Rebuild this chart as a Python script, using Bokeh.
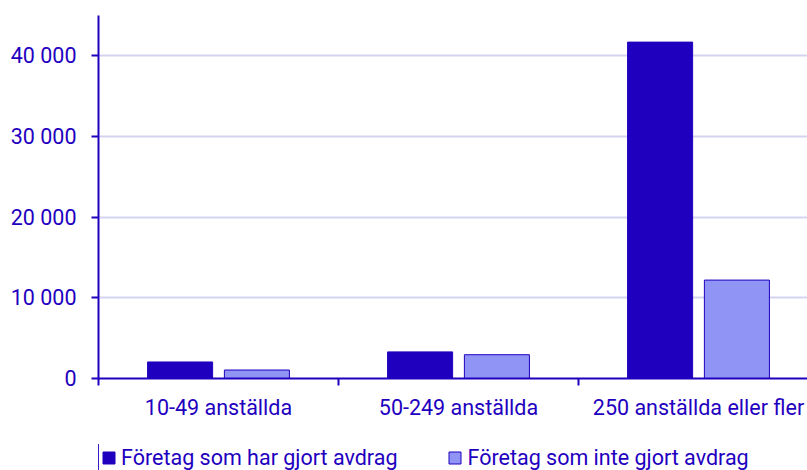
from bokeh.plotting import figure
from bokeh.layouts import column
from bokeh.models import (ColumnDataSource, FixedTicker, Range1d, Legend, LegendItem)
from bokeh.embed import file_html
from bokeh.resources import INLINE

categories = ["10-49 anställda", "50-249 anställda", "250 anställda eller fler"]
series_names = ["Företag som har gjort avdrag", "Företag som inte gjort avdrag"]
har_gjort = [2050, 3300, 41700]
inte_gjort = [1050, 2950, 12200]
y_ticks = [0, 10000, 20000, 30000, 40000]
y_tick_labels = ["0", "10 000", "20 000", "30 000", "40 000"]

DARK = "#1f00bf"
LIGHT = "#8f94f5"
GRID = "#d4d4f0"
FONT = "Roboto"
FS = "21.5px"

centers = [i + 0.5 for i in range(len(categories))]
bounds = [float(i) for i in range(len(categories))]

p = figure(width=807, height=444, output_backend="svg", toolbar_location=None,
           x_range=Range1d(0, 709 / 240), y_range=Range1d(0, 45000),
           min_border_left=98, min_border_top=15, min_border_right=0,
           min_border_bottom=66)
p.outline_line_color = None
p.background_fill_color = "white"

src1 = ColumnDataSource(dict(x=[c - 0.16 for c in centers], top=har_gjort))
src2 = ColumnDataSource(dict(x=[c + 0.16 for c in centers], top=inte_gjort))
p.vbar(x="x", top="top", width=0.271, bottom=0, source=src1,
       fill_color=DARK, line_color=DARK, line_width=1)
p.vbar(x="x", top="top", width=0.271, bottom=0, source=src2,
       fill_color=LIGHT, line_color=DARK, line_width=1)

# x axis
p.xaxis.ticker = FixedTicker(ticks=centers, minor_ticks=bounds)
p.xaxis.major_label_overrides = {c: lab for c, lab in zip(centers, categories)}
p.xaxis.major_tick_out = 0
p.xaxis.major_tick_in = 0
p.xaxis.minor_tick_out = 7
p.xaxis.minor_tick_in = 0
p.xaxis.minor_tick_line_color = DARK
p.xaxis.minor_tick_line_width = 2
p.xaxis.axis_line_color = DARK
p.xaxis.axis_line_width = 2
p.xaxis.major_label_text_color = DARK
p.xaxis.major_label_text_font = FONT
p.xaxis.major_label_text_font_size = FS
p.xaxis.major_label_standoff = 9

# y axis
p.yaxis.ticker = FixedTicker(ticks=y_ticks)
p.yaxis.major_label_overrides = {t: lab for t, lab in zip(y_ticks, y_tick_labels)}
p.yaxis.major_tick_out = 7
p.yaxis.major_tick_in = 0
p.yaxis.minor_tick_line_color = None
p.yaxis.major_tick_line_color = DARK
p.yaxis.major_tick_line_width = 2
p.yaxis.axis_line_color = DARK
p.yaxis.axis_line_width = 2
p.yaxis.major_label_text_color = DARK
p.yaxis.major_label_text_font = FONT
p.yaxis.major_label_text_font_size = FS
p.yaxis.major_label_standoff = 15

p.xgrid.grid_line_color = None
p.ygrid.ticker = FixedTicker(ticks=[10000, 20000, 30000, 40000, 45000])
p.ygrid.grid_line_color = GRID
p.ygrid.grid_line_width = 2

# legend strip (its frame is aligned with the main frame by the column layout)
p2 = figure(width=807, height=26, output_backend="svg", toolbar_location=None,
            x_range=Range1d(100, 101), y_range=Range1d(100, 101),
            min_border_left=0, min_border_top=0, min_border_right=0,
            min_border_bottom=0)
p2.axis.visible = False
p2.grid.grid_line_color = None
p2.outline_line_color = None
l1 = p2.vbar(x="x", top="top", width=0.271, bottom=0, source=src1,
             fill_color=DARK, line_color=DARK, line_width=1)
l2 = p2.vbar(x="x", top="top", width=0.271, bottom=0, source=src2,
             fill_color=LIGHT, line_color=DARK, line_width=1)
legend = Legend(items=[LegendItem(label=series_names[0], renderers=[l1]),
                       LegendItem(label=series_names[1], renderers=[l2])],
                location=(3, 0), orientation="horizontal",
                glyph_width=15, glyph_height=15, label_standoff=5, spacing=50,
                padding=0, margin=0, border_line_color=None,
                background_fill_alpha=0,
                label_text_font=FONT, label_text_font_size=FS,
                label_text_color=DARK, label_height=15)
p2.add_layout(legend, "center")

layout = column(p, p2, spacing=0)
open("out.html", "w").write(file_html(layout, INLINE))
